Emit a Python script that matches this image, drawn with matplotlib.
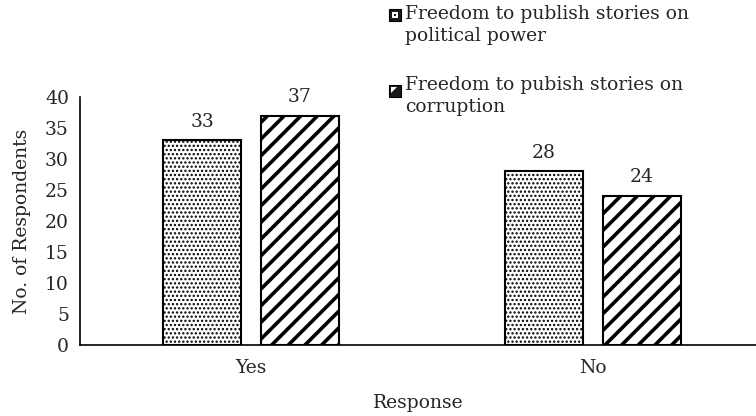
import matplotlib.pyplot as plt
from matplotlib.patches import Rectangle, Polygon
import numpy as np

plt.rcParams['font.family'] = ['DejaVu Serif']

# Survey counts per response
responses = ["Yes", "No"]
political_power = [33, 28]
corruption = [37, 24]
series_labels = ["Freedom to publish stories on\npolitical power",
                 "Freedom to pubish stories on\ncorruption"]
hatches = ['....', '//']
hatch_widths = [1.1, 2.6]

text_color = '#262626'
fs = 13.5

fig = plt.figure(figsize=(7.56, 4.16), dpi=100)
ax = fig.add_axes([80 / 756, 1 - 345 / 416, 676 / 756, 248 / 416])

index = np.arange(len(responses))
bar_width = 0.228
offset = 0.143

all_bars = []
for i, values in enumerate([political_power, corruption]):
    plt.rcParams['hatch.linewidth'] = hatch_widths[i]
    bars = ax.bar(index + (2 * i - 1) * offset, values, bar_width, color='white',
                  edgecolor='black', linewidth=1.5, hatch=hatches[i])
    all_bars.append(bars)

for bars in all_bars:
    for rect in bars:
        ax.annotate(str(int(rect.get_height())),
                    (rect.get_x() + rect.get_width() / 2, rect.get_height()),
                    xytext=(0, 7), textcoords='offset points',
                    ha='center', va='bottom', fontsize=fs, color=text_color)

ax.set_ylim(0, 40)
ax.set_xlim(-0.5, 1.477)
ax.set_yticks(range(0, 41, 5))
ax.set_xticks(index)
ax.set_xticklabels(responses)
ax.tick_params(length=0, labelsize=fs, labelcolor=text_color, pad=8)
ax.tick_params(axis='x', pad=10)
for side in ('top', 'right'):
    ax.spines[side].set_visible(False)
ax.spines['left'].set_linewidth(1.2)
ax.spines['bottom'].set_linewidth(1.2)

ax.set_ylabel('No. of Respondents', fontsize=fs, color=text_color, labelpad=10)
ax.set_xlabel('Response', fontsize=fs, color=text_color, labelpad=12)

# Legend keys drawn in figure pixels (origin top-left)
def px(x, y):
    return (x / 756, 1 - y / 416)

def key_box(x, y, size=12):
    return Rectangle(px(x, y + size), size / 756, size / 416,
                     transform=fig.transFigure, facecolor='#1a1a1a',
                     edgecolor='black', linewidth=0.8)

legend_text_tops = [5, 76]
legend_key_tops = [9, 85]
for i, label in enumerate(series_labels):
    kx, ky = 389, legend_key_tops[i]
    fig.patches.append(key_box(kx, ky))
    if i == 0:
        fig.patches.append(Rectangle(px(kx + 3, ky + 9), 6 / 756, 6 / 416,
                                     transform=fig.transFigure,
                                     facecolor='white', edgecolor='none'))
        fig.patches.append(Rectangle(px(kx + 5, ky + 7), 2 / 756, 2 / 416,
                                     transform=fig.transFigure,
                                     facecolor='#1a1a1a', edgecolor='none'))
    else:
        fig.patches.append(Polygon([px(kx + 2, ky + 2), px(kx + 8, ky + 2),
                                    px(kx + 2, ky + 8)], closed=True,
                                   transform=fig.transFigure,
                                   facecolor='white', edgecolor='none'))
    fig.text(405 / 756, 1 - legend_text_tops[i] / 416, label, fontsize=fs,
             color=text_color, va='top', ha='left', linespacing=1.3)

fig.savefig('out.png', dpi=100)
